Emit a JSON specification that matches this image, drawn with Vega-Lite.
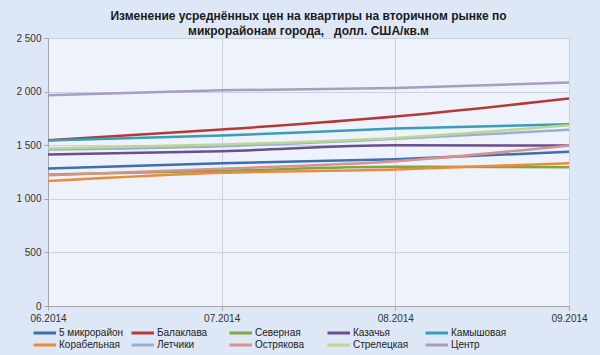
{
  "$schema": "https://vega.github.io/schema/vega-lite/v6.json",
  "autosize": "none",
  "width": 521,
  "height": 268,
  "padding": {"left": 48, "top": 38, "right": 31, "bottom": 49},
  "background": "#DDE7F6",
  "title": {
    "text": ["Изменение усреднённых цен на квартиры на вторичном рынке по", "микрорайонам города,\u00a0\u00a0\u00a0долл. США/кв.м"],
    "font": "Liberation Sans",
    "fontSize": 12,
    "fontWeight": "bold",
    "color": "#1a1a1a",
    "anchor": "middle",
    "offset": -5,
    "lineHeight": 15
  },
  "data": {"values": [
    {"m": "06.2014", "d": "5 микрорайон", "v": 1283},
    {"m": "07.2014", "d": "5 микрорайон", "v": 1332},
    {"m": "08.2014", "d": "5 микрорайон", "v": 1370},
    {"m": "09.2014", "d": "5 микрорайон", "v": 1438},
    {"m": "06.2014", "d": "Балаклава", "v": 1547},
    {"m": "07.2014", "d": "Балаклава", "v": 1646},
    {"m": "08.2014", "d": "Балаклава", "v": 1767},
    {"m": "09.2014", "d": "Балаклава", "v": 1935},
    {"m": "06.2014", "d": "Северная", "v": 1227},
    {"m": "07.2014", "d": "Северная", "v": 1261},
    {"m": "08.2014", "d": "Северная", "v": 1298},
    {"m": "09.2014", "d": "Северная", "v": 1295},
    {"m": "06.2014", "d": "Казачья", "v": 1413},
    {"m": "07.2014", "d": "Казачья", "v": 1444},
    {"m": "08.2014", "d": "Казачья", "v": 1500},
    {"m": "09.2014", "d": "Казачья", "v": 1497},
    {"m": "06.2014", "d": "Камышовая", "v": 1545},
    {"m": "07.2014", "d": "Камышовая", "v": 1590},
    {"m": "08.2014", "d": "Камышовая", "v": 1655},
    {"m": "09.2014", "d": "Камышовая", "v": 1696},
    {"m": "06.2014", "d": "Корабельная", "v": 1165},
    {"m": "07.2014", "d": "Корабельная", "v": 1242},
    {"m": "08.2014", "d": "Корабельная", "v": 1273},
    {"m": "09.2014", "d": "Корабельная", "v": 1332},
    {"m": "06.2014", "d": "Летчики", "v": 1460},
    {"m": "07.2014", "d": "Летчики", "v": 1491},
    {"m": "08.2014", "d": "Летчики", "v": 1559},
    {"m": "09.2014", "d": "Летчики", "v": 1643},
    {"m": "06.2014", "d": "Острякова", "v": 1220},
    {"m": "07.2014", "d": "Острякова", "v": 1280},
    {"m": "08.2014", "d": "Острякова", "v": 1351},
    {"m": "09.2014", "d": "Острякова", "v": 1497},
    {"m": "06.2014", "d": "Стрелецкая", "v": 1469},
    {"m": "07.2014", "d": "Стрелецкая", "v": 1506},
    {"m": "08.2014", "d": "Стрелецкая", "v": 1568},
    {"m": "09.2014", "d": "Стрелецкая", "v": 1686},
    {"m": "06.2014", "d": "Центр", "v": 1966},
    {"m": "07.2014", "d": "Центр", "v": 2012},
    {"m": "08.2014", "d": "Центр", "v": 2034},
    {"m": "09.2014", "d": "Центр", "v": 2084}
  ]},
  "mark": {"type": "line", "strokeWidth": 2.5, "interpolate": "monotone"},
  "encoding": {
    "x": {
      "field": "m", "type": "ordinal",
      "scale": {"type": "point", "padding": 0},
      "axis": {"title": null, "labelAngle": 0, "grid": true, "gridColor": "#C9D2DE", "domainColor": "#A6A6A6", "tickColor": "#A6A6A6", "tickSize": 4, "labelFont": "Liberation Sans", "labelFontSize": 10, "labelColor": "#333333", "labelPadding": 3}
    },
    "y": {
      "field": "v", "type": "quantitative",
      "scale": {"domain": [0, 2500]},
      "axis": {"title": null, "values": [0, 500, 1000, 1500, 2000, 2500], "labelExpr": "replace(format(datum.value, ',d'), ',', ' ')", "grid": true, "gridColor": "#C9D2DE", "domainColor": "#A6A6A6", "tickColor": "#A6A6A6", "tickSize": 4, "labelFont": "Liberation Sans", "labelFontSize": 10, "labelColor": "#333333", "labelPadding": 3}
    },
    "color": {
      "field": "d", "type": "nominal",
      "scale": {
        "domain": ["5 микрорайон", "Балаклава", "Северная", "Казачья", "Камышовая", "Корабельная", "Летчики", "Острякова", "Стрелецкая", "Центр"],
        "range": ["#3E6FAE", "#B33A37", "#7FA544", "#6A4E8E", "#3A9DB6", "#ED8A3A", "#94B0D4", "#D7918F", "#BFD592", "#A89CBF"]
      },
      "legend": {
        "orient": "none", "legendX": -16, "legendY": 289,
        "title": null, "direction": "horizontal", "columns": 5, "gridAlign": "all",
        "symbolType": "M-1,0H4", "symbolSize": 81, "symbolStrokeWidth": 3,
        "labelFont": "Liberation Sans", "labelFontSize": 10, "labelColor": "#222222",
        "labelOffset": 15, "columnPadding": 1, "rowPadding": -1, "symbolOffset": 0
      }
    }
  },
  "config": {
    "view": {"fill": "#EDF2FB", "stroke": null}
  }
}
